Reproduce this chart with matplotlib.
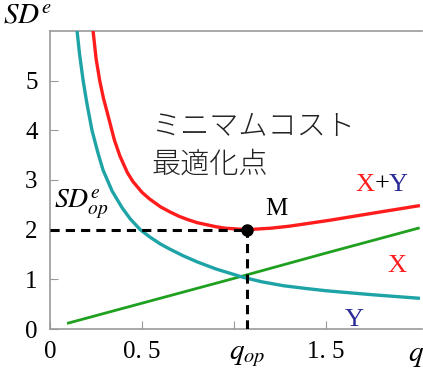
import matplotlib
matplotlib.use("Agg")
import matplotlib.pyplot as plt

plt.rcParams['mathtext.fontset'] = 'stix'
plt.rcParams['font.family'] = ['Liberation Serif', 'DejaVu Serif']

# ---- data ----
red_q = [0.234, 0.25, 0.27, 0.29, 0.315, 0.35, 0.38, 0.42, 0.45, 0.50, 0.54, 0.60, 0.65, 0.70, 0.75,
         0.80, 0.90, 0.95, 1.07, 1.20, 1.30, 1.52, 1.75, 2.00]
red_v = [6.00, 5.45, 5.00, 4.65, 4.30, 3.80, 3.48, 3.15, 2.97, 2.75, 2.62, 2.46, 2.36, 2.27, 2.20,
         2.14, 2.06, 2.03, 2.00, 2.03, 2.07, 2.19, 2.33, 2.48]

teal_q = [0.147, 0.16, 0.18, 0.20, 0.228, 0.26, 0.288, 0.337, 0.39, 0.435, 0.49, 0.543, 0.60, 0.65,
          0.72, 0.80, 0.90, 1.05, 1.15, 1.27, 1.38, 1.50, 1.75, 2.00]
teal_v = [6.00, 5.55, 5.00, 4.55, 4.00, 3.55, 3.20, 2.78, 2.45, 2.22, 2.00, 1.85, 1.71, 1.61,
          1.48, 1.35, 1.21, 1.04, 0.95, 0.87, 0.82, 0.77, 0.69, 0.62]

green_q = [0.10, 0.50, 1.00, 1.50, 2.00]
green_v = [0.12, 0.52, 1.02, 1.53, 2.03]

q_op = 1.07
sd_op = 2.0

yticks = [0, 1, 2, 3, 4, 5]
xticks = [0, 0.5, 1.0, 1.5]
xticklabels = ['0', '0. 5', '', '1. 5']

RED = '#ff1c1c'
TEAL = '#1ea3a6'
GREEN = '#1fa01f'
NAVY = '#2b2b96'

fig = plt.figure(figsize=(4.23, 3.72), dpi=100)
ax = fig.add_axes([50/423, 1-329/372, 372/423, 298/372])
ax.set_xlim(0, 2.02)
ax.set_ylim(0, 6.0)

ax.plot(green_q, green_v, color=GREEN, lw=2.0, zorder=3)
ax.plot(teal_q, teal_v, color=TEAL, lw=2.4, zorder=3)
ax.plot(red_q, red_v, color=RED, lw=2.4, zorder=3)

# dashed guide lines
ax.plot([0, q_op], [sd_op, sd_op], color='black', lw=2.2, ls=(0, (3, 2)), zorder=4, clip_on=False)
ax.plot([q_op, q_op], [0, sd_op], color='black', lw=2.2, ls=(0, (3, 2)), zorder=4)
ax.plot([q_op], [sd_op], 'o', color='black', ms=8, zorder=5)

for s in ['left', 'bottom', 'top']:
    ax.spines[s].set_color('#999999')
    ax.spines[s].set_linewidth(1.2)
ax.spines['right'].set_visible(False)

ax.set_yticks(yticks)
ax.set_yticklabels([str(v) for v in yticks])
ax.set_xticks(xticks)
ax.set_xticklabels(xticklabels)
ax.tick_params(direction='in', length=6, color='#999999', labelsize=18, pad=9)
ax.tick_params(axis='y', pad=9)

# texts
fig.text(3/423, 1-24/372, r'$SD^e$', fontsize=21, va='baseline', ha='left')
ax.text(q_op, -0.28, r'$q_{op}$', fontsize=21, ha='center', va='top')
ax.text(1.99, -0.28, r'$q$', fontsize=21, ha='center', va='top', clip_on=False)
ax.text(0.02, 2.15, r'$SD^e_{op}$', fontsize=20, ha='left', va='bottom')
ax.text(1.17, 2.2, 'M', fontsize=18, ha='left', va='bottom')
ax.text(1.66, 2.68, 'X', color=RED, fontsize=19, ha='left', va='bottom')
ax.text(1.765, 2.68, '+', color='black', fontsize=19, ha='left', va='bottom')
ax.text(1.84, 2.68, 'Y', color=NAVY, fontsize=19, ha='left', va='bottom')
ax.text(1.83, 1.05, 'X', color=RED, fontsize=19, ha='left', va='bottom')
ax.text(1.6, -0.05, 'Y', color=NAVY, fontsize=19, ha='left', va='bottom')

jp = ['Noto Sans CJK JP', 'DejaVu Sans']
ax.text(0.55, 3.78, 'ミニマムコスト', fontsize=21, family=jp, ha='left', va='bottom', color='#222222',
        fontweight='light')
ax.text(0.55, 3.0, '最適化点', fontsize=21, family=jp, ha='left', va='bottom', color='#222222',
        fontweight='light')

fig.savefig('out.png', dpi=100)
